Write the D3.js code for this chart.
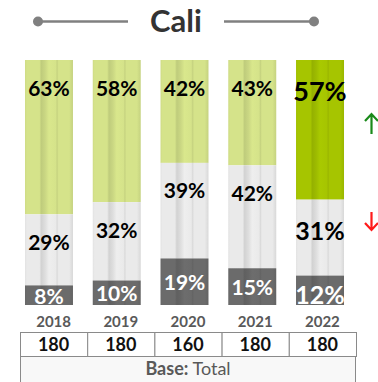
<!DOCTYPE html>
<html>
<head>
<meta charset="utf-8">
<script src="https://cdn.jsdelivr.net/npm/d3@7"></script>
<style>
  body { margin: 0; background: #fff; }
  svg { display: block; font-family: Lato, "Open Sans", sans-serif; }
</style>
</head>
<body>
<div id="chart"></div>
<script>
/* chart data */
var years = ["2018", "2019", "2020", "2021", "2022"];
var topShare = [63, 58, 42, 43, 57];   // green
var midShare = [29, 32, 39, 42, 31];   // light grey
var lowShare = [8, 10, 19, 15, 12];    // dark grey
var baseN = [180, 180, 160, 180, 180];
var title = "Cali";

var width = 378, height = 382;
var svg = d3.select("#chart").append("svg")
    .attr("width", width)
    .attr("height", height);

/* scales */
var x = d3.scaleBand()
    .domain(years)
    .range([15.1, 353.9])
    .paddingInner(0.292)
    .paddingOuter(0.146);

var col = d3.scaleBand()
    .domain(years)
    .range([20, 356]);

var y = d3.scaleLinear()
    .domain([0, 100])
    .range([305, 60]);

/* striped fills, like a column shading */
var defs = svg.append("defs");
function stripe(id, base) {
    var c = d3.color(base);
    var g = defs.append("linearGradient").attr("id", id)
        .attr("x1", 0).attr("x2", 1).attr("y1", 0).attr("y2", 0);
    var stops = [
        [0, c.darker(0.1)], [0.04, c], [0.3, c], [0.34, c.darker(0.3)],
        [0.42, c.darker(0.15)], [0.5, c.brighter(0.05)], [0.64, c],
        [0.67, c.darker(0.2)], [0.7, c], [0.92, c], [1, c.darker(0.22)]
    ];
    stops.forEach(function (s) {
        g.append("stop").attr("offset", s[0]).attr("stop-color", s[1] + "");
    });
}
stripe("gGreen", "#d5e38a");
stripe("gGreenHi", "#a6c500");
stripe("gLight", "#eaeaea");
stripe("gDark", "#6b6b6b");

/* title */
var tg = svg.append("g").attr("fill", "#808080").attr("stroke", "#808080");
tg.append("line").attr("x1", 38).attr("x2", 128).attr("y1", 21.5).attr("y2", 21.5).attr("stroke-width", 2.5);
tg.append("line").attr("x1", 224).attr("x2", 314).attr("y1", 21.5).attr("y2", 21.5).attr("stroke-width", 2.5);
tg.append("circle").attr("cx", 38).attr("cy", 21.5).attr("r", 5).attr("stroke", "none");
tg.append("circle").attr("cx", 314).attr("cy", 21.5).attr("r", 5).attr("stroke", "none");
svg.append("text")
    .attr("x", 176).attr("y", 32)
    .attr("text-anchor", "middle")
    .attr("font-size", 31).attr("font-weight", "bold")
    .attr("fill", "#333")
    .text(title);

/* stacked bars */
var rows = years.map(function (yr, i) {
    return { year: yr, i: i, low: lowShare[i], mid: midShare[i], top: topShare[i] };
});

var bars = svg.selectAll(".bar").data(rows).enter().append("g").attr("class", "bar");

bars.append("rect")
    .attr("x", function (d) { return x(d.year); })
    .attr("width", x.bandwidth())
    .attr("y", function (d) { return y(100); })
    .attr("height", function (d) { return y(d.low + d.mid) - y(100); })
    .attr("fill", function (d) { return d.i == 4 ? "url(#gGreenHi)" : "url(#gGreen)"; });

bars.append("rect")
    .attr("x", function (d) { return x(d.year); })
    .attr("width", x.bandwidth())
    .attr("y", function (d) { return y(d.low + d.mid); })
    .attr("height", function (d) { return y(d.low) - y(d.low + d.mid); })
    .attr("fill", "url(#gLight)");

bars.append("rect")
    .attr("x", function (d) { return x(d.year); })
    .attr("width", x.bandwidth())
    .attr("y", function (d) { return y(d.low); })
    .attr("height", function (d) { return y(0) - y(d.low); })
    .attr("fill", "url(#gDark)");

/* labels */
function big(d) { return d.i == 4; }
bars.append("text")
    .attr("x", function (d) { return x(d.year) + x.bandwidth() / 2; })
    .attr("y", function (d) { return y(100) + (big(d) ? 31 : 28); })
    .attr("dy", "0.36em")
    .attr("text-anchor", "middle")
    .attr("font-weight", "bold")
    .attr("font-size", function (d) { return big(d) ? 27 : 21; })
    .attr("fill", "#000")
    .text(function (d) { return d.top + "%"; });

bars.append("text")
    .attr("x", function (d) { return x(d.year) + x.bandwidth() / 2; })
    .attr("y", function (d) { return y(d.low + d.mid) + (big(d) ? 31 : 28); })
    .attr("dy", "0.36em")
    .attr("text-anchor", "middle")
    .attr("font-weight", "bold")
    .attr("font-size", function (d) { return big(d) ? 25 : 21; })
    .attr("fill", "#000")
    .text(function (d) { return d.mid + "%"; });

// bottom labels get clipped by the bar like in the original
defs.append("clipPath").attr("id", "barClip")
    .append("rect").attr("x", 0).attr("y", 0).attr("width", width).attr("height", y(0));
bars.append("text")
    .attr("clip-path", "url(#barClip)")
    .attr("x", function (d) { return x(d.year) + x.bandwidth() / 2; })
    .attr("y", function (d) { return (y(d.low) + y(0)) / 2 + (big(d) ? 5 : 1); })
    .attr("dy", "0.36em")
    .attr("text-anchor", "middle")
    .attr("font-weight", "bold")
    .attr("font-size", function (d) { return big(d) ? 25 : 21; })
    .attr("fill", "#fff")
    .text(function (d) { return d.low + "%"; });

/* change arrows */
svg.append("path")
    .attr("d", "M371.5,134 V115 M365,121 L371.5,114 L378,121")
    .attr("fill", "none").attr("stroke", "#1a8a1a").attr("stroke-width", 2.2);
svg.append("path")
    .attr("d", "M371.5,212 V229 M365,223 L371.5,230 L378,223")
    .attr("fill", "none").attr("stroke", "#ff1a1a").attr("stroke-width", 2.2);

/* year labels */
svg.selectAll(".year").data(years).enter().append("text")
    .attr("class", "year")
    .attr("x", function (d) { return col(d) + col.bandwidth() / 2; })
    .attr("y", 322).attr("dy", "0.36em")
    .attr("text-anchor", "middle")
    .attr("font-weight", "bold").attr("font-size", 15)
    .attr("fill", "#595959")
    .text(function (d) { return d; });

/* base table */
var tb = svg.append("g").attr("fill", "none").attr("stroke", "#8a8a8a").attr("stroke-width", 1);
tb.append("rect").attr("x", 20.5).attr("y", 356.5).attr("width", 335).attr("height", 30)
    .attr("fill", "#f8f8f8");
tb.selectAll(".cell").data(years).enter().append("rect")
    .attr("x", function (d) { return col(d) + 0.5; })
    .attr("y", 332.5)
    .attr("width", col.bandwidth())
    .attr("height", 24)
    .attr("fill", "#fff");

svg.selectAll(".base").data(baseN).enter().append("text")
    .attr("x", function (d, i) { return col(years[i]) + col.bandwidth() / 2; })
    .attr("y", 344.5).attr("dy", "0.36em")
    .attr("text-anchor", "middle")
    .attr("font-weight", "bold").attr("font-size", 18)
    .attr("fill", "#111")
    .text(function (d) { return d; });

var bt = svg.append("text")
    .attr("x", 188).attr("y", 368.5).attr("dy", "0.36em")
    .attr("text-anchor", "middle")
    .attr("font-size", 18).attr("fill", "#595959");
bt.append("tspan").attr("font-weight", "bold").text("Base:");
bt.append("tspan").text(" Total");
</script>
</body>
</html>
